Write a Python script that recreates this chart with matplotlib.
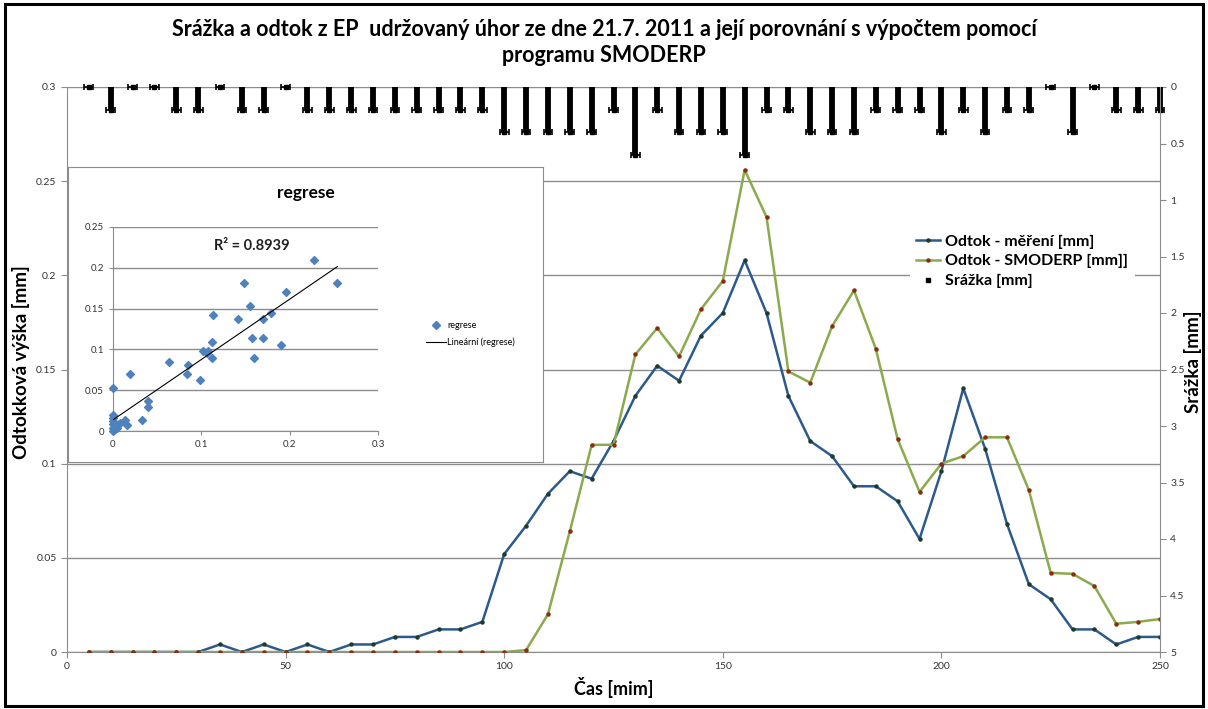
import numpy as np
import matplotlib
matplotlib.use("Agg")
import matplotlib.pyplot as plt
from matplotlib.lines import Line2D
from matplotlib.patches import Rectangle

plt.rcParams['font.family'] = ['Lato', 'DejaVu Sans']

# time steps [min]
TIME = list(range(5, 255, 5))

# measured runoff [mm]
MEASURED = [0, 0, 0, 0, 0, 0, 0.004, 0, 0.004, 0,
            0.004, 0, 0.004, 0.004, 0.008, 0.008, 0.012, 0.012, 0.016, 0.052,
            0.067, 0.084, 0.096, 0.092, 0.112, 0.136, 0.152, 0.144, 0.168, 0.180,
            0.208, 0.180, 0.136, 0.112, 0.104, 0.088, 0.088, 0.080, 0.060, 0.096,
            0.140, 0.108, 0.068, 0.036, 0.028, 0.012, 0.012, 0.004, 0.008, 0.008]

# SMODERP computed runoff [mm]
SMODERP = [0, 0, 0, 0, 0, 0, 0, 0, 0, 0,
           0, 0, 0, 0, 0, 0, 0, 0, 0, 0,
           0.001, 0.020, 0.064, 0.110, 0.110, 0.158, 0.172, 0.157, 0.182, 0.197,
           0.256, 0.231, 0.149, 0.143, 0.173, 0.192, 0.161, 0.113, 0.085, 0.100,
           0.104, 0.114, 0.114, 0.086, 0.042, 0.0415, 0.035, 0.015, 0.016, 0.0175]

# rainfall [mm]
RAIN = [0, 0.2, 0, 0, 0.2, 0.2, 0, 0.2, 0.2, 0,
        0.2, 0.2, 0.2, 0.2, 0.2, 0.2, 0.2, 0.2, 0.2, 0.4,
        0.4, 0.4, 0.4, 0.4, 0.2, 0.6, 0.2, 0.4, 0.4, 0.4,
        0.6, 0.2, 0.2, 0.4, 0.4, 0.4, 0.2, 0.2, 0.2, 0.4,
        0.2, 0.4, 0.2, 0.2, 0, 0.4, 0, 0.2, 0.2, 0.2]

# regression points
REG_X = [0.228, 0.254, 0.148, 0.196, 0.155, 0.179, 0.113, 0.142, 0.170, 0.157,
         0.170, 0.112, 0.190, 0.102, 0.108, 0.106, 0.112, 0.160, 0.063, 0.085,
         0.084, 0.019, 0.098, 0.0, 0.040, 0.040, 0.033, 0.014, 0.016, 0.0,
         0.0, 0.0, 0.0, 0.0, 0.0, 0.004, 0.008, 0.002]
REG_Y = [0.209, 0.181, 0.181, 0.170, 0.153, 0.145, 0.142, 0.137, 0.137, 0.114,
         0.114, 0.109, 0.106, 0.098, 0.098, 0.095, 0.090, 0.090, 0.085, 0.081,
         0.070, 0.070, 0.062, 0.053, 0.037, 0.030, 0.013, 0.013, 0.007, 0.016,
         0.012, 0.008, 0.004, 0.0, 0.020, 0.004, 0.010, 0.002]
R2_TEXT = 'R² = 0.8939'

BLUE = '#2C5A8C'
GREEN = '#8BAA4C'
GRID = '#8C8C8C'
TICK = '#333333'

W, H = 1208, 709
fig = plt.figure(figsize=(W / 100, H / 100), dpi=100)


def fx(px):
    return px / W


def fy(py):
    return 1 - py / H


# main axes
ax = fig.add_axes([fx(67), fy(652), fx(1160) - fx(67), fy(87) - fy(652)])
ax.set_xlim(0, 250)
ax.set_ylim(0, 0.3)
ax.set_xticks(range(0, 251, 50))
ax.set_yticks([0, 0.05, 0.1, 0.15, 0.2, 0.25, 0.3])
ax.set_yticklabels(['0', '0.05', '0.1', '0.15', '0.2', '0.25', '0.3'])
ax.grid(axis='y', color=GRID, lw=1)
ax.set_axisbelow(True)
for s in ['top', 'right']:
    ax.spines[s].set_visible(False)
for s in ['left', 'bottom']:
    ax.spines[s].set_color(GRID)
ax.tick_params(labelsize=7.5, colors=GRID, labelcolor=TICK, length=4)

ax.plot(TIME, MEASURED, color=BLUE, lw=1.8, marker='o', ms=2.2,
        mfc='#1E3A28', mec='#1E3A28', zorder=3)
ax.plot(TIME, SMODERP, color=GREEN, lw=1.8, marker='o', ms=2.2,
        mfc='#8A2B0C', mec='#8A2B0C', zorder=3)

# rainfall on inverted secondary axis
ax2 = ax.twinx()
ax2.set_ylim(5, 0)
ax2.set_yticks(np.arange(0, 5.01, 0.5))
ax2.set_yticklabels(['0', '0.5', '1', '1.5', '2', '2.5', '3', '3.5', '4', '4.5', '5'])
for s in ['top', 'left', 'bottom']:
    ax2.spines[s].set_visible(False)
ax2.spines['right'].set_color(GRID)
ax2.tick_params(labelsize=7.5, colors=GRID, labelcolor=TICK, length=4)

rain = np.array(RAIN)
ax2.errorbar(TIME, rain, yerr=[rain, np.zeros_like(rain)], fmt='none',
             ecolor='black', elinewidth=4.2, capsize=0, clip_on=False)
ax2.errorbar(TIME, rain, xerr=1.0, fmt='s', ms=2.5, color='black',
             ecolor='black', elinewidth=1.2, capsize=2.5, capthick=1.2,
             clip_on=False)

ax.set_xlabel('Čas [mim]', fontsize=13, fontweight='bold', labelpad=4)
fig.text(fx(21), fy(362), 'Odtokková výška [mm]', rotation=90, ha='center',
         va='center', fontsize=13.5, fontweight='bold')
fig.text(fx(1193), fy(362), 'Srážka [mm]', rotation=90, ha='center',
         va='center', fontsize=13.5, fontweight='bold')

handles = [
    Line2D([], [], color=BLUE, lw=1.8, marker='o', ms=2.2, mfc='#1E3A28', mec='#1E3A28'),
    Line2D([], [], color=GREEN, lw=1.8, marker='o', ms=2.2, mfc='#8A2B0C', mec='#8A2B0C'),
    Line2D([], [], ls='none', marker='s', ms=3, color='black'),
]
ax2.legend(handles, ['Odtok - měření [mm]', 'Odtok - SMODERP [mm]]', 'Srážka [mm]'],
           loc='upper left', bbox_to_anchor=(fx(902), fy(220)),
           bbox_transform=fig.transFigure, frameon=True, fancybox=False,
           edgecolor='none', facecolor='white', framealpha=1,
           prop={'size': 11.5, 'weight': 'bold'}, handlelength=1.5,
           handletextpad=0.3, labelspacing=0.35, borderpad=0.4)

fig.text(0.5, fy(30), 'Srážka a odtok z EP  udržovaný úhor ze dne 21.7. 2011 a její porovnání s výpočtem pomocí',
         ha='center', va='center', fontsize=15.5, fontweight='bold')
fig.text(0.5, fy(56), 'programu SMODERP', ha='center', va='center',
         fontsize=15.5, fontweight='bold')

# inset regression chart
box = fig.add_axes([fx(68), fy(462), fx(543) - fx(68), fy(167) - fy(462)])
box.set_zorder(5)
box.set_xticks([])
box.set_yticks([])
for s in box.spines.values():
    s.set_color(GRID)
box.set_title('regrese', fontsize=12.5, fontweight='bold', y=0.865)

ins = fig.add_axes([fx(113), fy(431), fx(378) - fx(113), fy(227) - fy(431)])
ins.set_zorder(6)
ins.patch.set_alpha(0)
ins.set_xlim(0, 0.3)
ins.set_ylim(0, 0.25)
ins.set_xticks([0, 0.1, 0.2, 0.3])
ins.set_xticklabels(['0', '0.1', '0.2', '0.3'])
ins.set_yticks([0, 0.05, 0.1, 0.15, 0.2, 0.25])
ins.set_yticklabels(['0', '0.05', '0.1', '0.15', '0.2', '0.25'])
ins.grid(axis='y', color=GRID, lw=1)
ins.set_axisbelow(True)
for s in ['top', 'right']:
    ins.spines[s].set_visible(False)
for s in ['left', 'bottom']:
    ins.spines[s].set_color(GRID)
ins.tick_params(labelsize=7, colors=GRID, labelcolor=TICK, length=3)

ins.scatter(REG_X, REG_Y, marker='D', s=16, color='#4F81BD', zorder=3,
            clip_on=False)
k, q = np.polyfit(REG_X, REG_Y, 1)
xs = np.array([min(REG_X), max(REG_X)])
ins.plot(xs, k * xs + q, color='black', lw=0.8, zorder=4)
ins.text(0.157, 0.227, R2_TEXT, ha='center', va='center', fontsize=10.5,
         fontweight='bold', color='#222222')

ih = [Line2D([], [], ls='none', marker='D', ms=4, color='#4F81BD'),
      Line2D([], [], color='black', lw=0.8)]
box.legend(ih, ['regrese', 'Lineární (regrese)'], loc='center left',
           bbox_to_anchor=(fx(418), fy(334)), bbox_transform=fig.transFigure,
           frameon=False, fontsize=6.5, handlelength=2.2, handletextpad=0.1,
           labelspacing=0.8)

# outer frame
fig.patches.append(Rectangle((fx(5), fy(706)), fx(1203) - fx(5), fy(4) - fy(706),
                             transform=fig.transFigure, fill=False,
                             edgecolor='black', lw=2.2, zorder=10))

fig.savefig('out.png', dpi=100)
